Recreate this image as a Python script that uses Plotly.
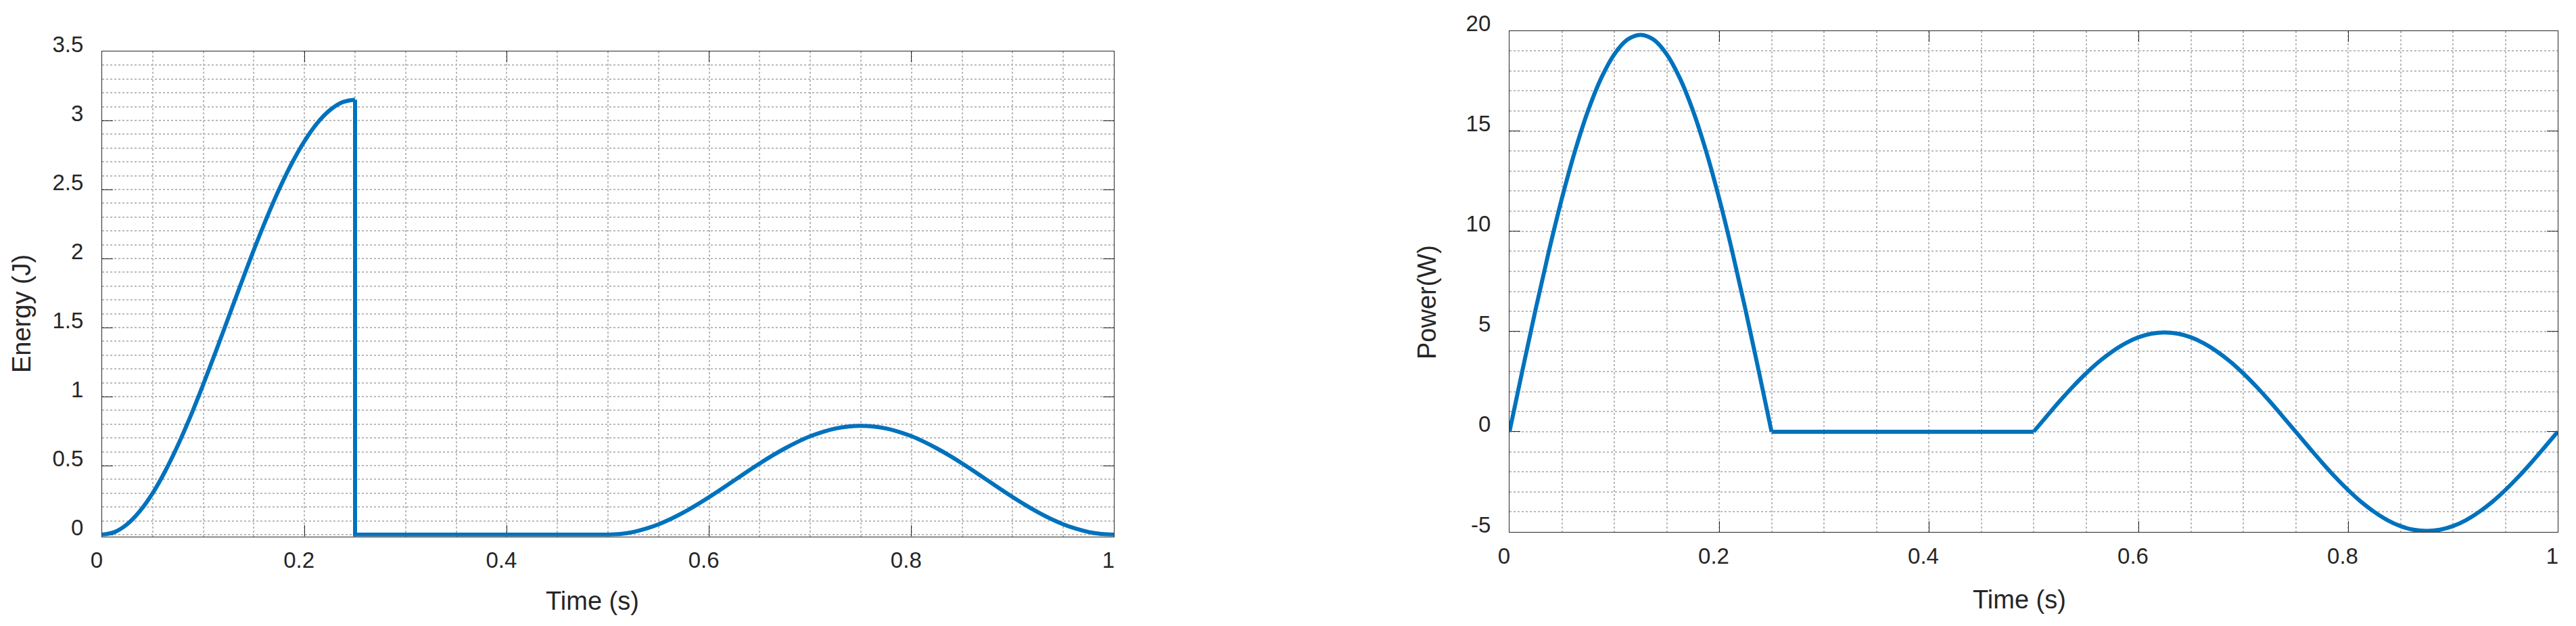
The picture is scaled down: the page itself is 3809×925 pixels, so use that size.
import plotly.graph_objects as go

# ---------------- data ----------------
energy_time = [0.0, 0.0125, 0.025, 0.0375, 0.05, 0.0625, 0.075, 0.0875, 0.1, 0.1125,
               0.125, 0.1375, 0.15, 0.1625, 0.175, 0.1875, 0.2, 0.2125, 0.225, 0.2375,
               0.25, 0.25, 0.5,
               0.5125, 0.525, 0.5375, 0.55, 0.5625, 0.575, 0.5875, 0.6, 0.6125, 0.625,
               0.6375, 0.65, 0.6625, 0.675, 0.6875, 0.7, 0.7125, 0.725, 0.7375, 0.75,
               0.7625, 0.775, 0.7875, 0.8, 0.8125, 0.825, 0.8375, 0.85, 0.8625, 0.875,
               0.8875, 0.9, 0.9125, 0.925, 0.9375, 0.95, 0.9625, 0.975, 0.9875, 1.0]
energy_j = [0.0, 0.019, 0.077, 0.172, 0.301, 0.462, 0.650, 0.860, 1.089, 1.329,
            1.576, 1.822, 2.063, 2.291, 2.502, 2.690, 2.850, 2.980, 3.074, 3.132,
            3.151, 0.0, 0.0,
            0.005, 0.019, 0.043, 0.075, 0.115, 0.162, 0.215, 0.272, 0.332, 0.394,
            0.456, 0.516, 0.573, 0.625, 0.672, 0.713, 0.745, 0.769, 0.783, 0.788,
            0.783, 0.769, 0.745, 0.713, 0.672, 0.625, 0.573, 0.516, 0.456, 0.394,
            0.332, 0.272, 0.215, 0.162, 0.115, 0.075, 0.043, 0.019, 0.005, 0.0]

power_time = [0.0, 0.0125, 0.025, 0.0375, 0.05, 0.0625, 0.075, 0.0875, 0.1, 0.1125,
              0.125, 0.1375, 0.15, 0.1625, 0.175, 0.1875, 0.2, 0.2125, 0.225, 0.2375,
              0.25, 0.5,
              0.5125, 0.525, 0.5375, 0.55, 0.5625, 0.575, 0.5875, 0.6, 0.6125, 0.625,
              0.6375, 0.65, 0.6625, 0.675, 0.6875, 0.7, 0.7125, 0.725, 0.7375, 0.75,
              0.7625, 0.775, 0.7875, 0.8, 0.8125, 0.825, 0.8375, 0.85, 0.8625, 0.875,
              0.8875, 0.9, 0.9125, 0.925, 0.9375, 0.95, 0.9625, 0.975, 0.9875, 1.0]
power_w = [0.0, 3.10, 6.12, 8.99, 11.64, 14.00, 16.02, 17.64, 18.83, 19.56,
           19.80, 19.56, 18.83, 17.64, 16.02, 14.00, 11.64, 8.99, 6.12, 3.10,
           0.0, 0.0,
           0.77, 1.53, 2.25, 2.91, 3.50, 4.00, 4.41, 4.71, 4.89, 4.95,
           4.89, 4.71, 4.41, 4.00, 3.50, 2.91, 2.25, 1.53, 0.77, 0.0,
           -0.77, -1.53, -2.25, -2.91, -3.50, -4.00, -4.41, -4.71, -4.89, -4.95,
           -4.89, -4.71, -4.41, -4.00, -3.50, -2.91, -2.25, -1.53, -0.77, 0.0]

time_ticks = [0, 0.2, 0.4, 0.6, 0.8, 1]
time_tick_labels = ["0", "0.2", "0.4", "0.6", "0.8", "1"]
energy_ticks = [0, 0.5, 1, 1.5, 2, 2.5, 3, 3.5]
energy_tick_labels = ["0", "0.5", "1", "1.5", "2", "2.5", "3", "3.5"]
power_ticks = [-5, 0, 5, 10, 15, 20]
power_tick_labels = ["-5", "0", "5", "10", "15", "20"]

# ---------------- styling ----------------
W, H = 3809, 925
FONT = "Liberation Sans, Arial, sans-serif"
TXT = "#262626"
LINE = "#0072BD"
GRID = "#bababa"
DASH = "3px,3px"
TICKFONT = dict(family=FONT, size=33, color=TXT)
LABELFONT = dict(family=FONT, size=38, color=TXT)

def px_x(p):
    return p / W

def px_y(p):
    return 1 - p / H

fig = go.Figure()

def add_pieces(t, v, pieces, xa, ya):
    # smooth pieces use a spline, straight jumps/plateaus are linear
    for (a, b, shape) in pieces:
        fig.add_trace(go.Scatter(x=t[a:b], y=v[a:b], mode="lines",
                                 line=dict(color=LINE, width=6, shape=shape),
                                 xaxis=xa, yaxis=ya, showlegend=False,
                                 hoverinfo="skip"))

add_pieces(energy_time, energy_j,
           [(0, 21, "spline"), (20, 23, "linear"), (22, len(energy_time), "spline")],
           "x", "y")
add_pieces(power_time, power_w,
           [(0, 21, "spline"), (20, 22, "linear"), (21, len(power_time), "spline")],
           "x2", "y2")

def xaxis(domain, anchor):
    return dict(domain=domain, anchor=anchor, range=[0, 1], automargin=False,
                tickmode="array", tickvals=time_ticks, ticktext=time_tick_labels,
                ticks="inside", ticklen=16, tickwidth=1, tickcolor=TXT,
                showline=True, linecolor=TXT, linewidth=1.3, mirror="ticks",
                showgrid=True, gridcolor=GRID, griddash=DASH, gridwidth=1.7,
                minor=dict(dtick=0.05, tick0=0, showgrid=True, gridcolor=GRID,
                           griddash=DASH, gridwidth=1.7, ticks=""),
                zeroline=False, tickfont=TICKFONT, ticklabelstandoff=6,
                ticklabelshift=-8, fixedrange=True, layer="below traces")

def yaxis(domain, anchor, rng, tv, tt, minor):
    return dict(domain=domain, anchor=anchor, range=rng, automargin=False,
                tickmode="array", tickvals=tv, ticktext=tt,
                ticks="inside", ticklen=16, tickwidth=1, tickcolor=TXT,
                showline=True, linecolor=TXT, linewidth=1.3, mirror="ticks",
                showgrid=True, gridcolor=GRID, griddash=DASH, gridwidth=1.7,
                minor=dict(dtick=minor, tick0=0, showgrid=True, gridcolor=GRID,
                           griddash=DASH, gridwidth=1.7, ticks=""),
                zeroline=False, tickfont=TICKFONT, ticklabelstandoff=20,
                ticklabelshift=-11, fixedrange=True, layer="below traces")

# left plot: value 0 sits at 790 px, 3.5 at 76 px; the frame is extended 2.5 px
# below zero so that the thick zero-level line is not half clipped
L_pad_px = 2.5
L_unit_px = (790 - 76) / 3.5
L_x = [px_x(151), px_x(1647)]
L_y = [px_y(790 + L_pad_px), px_y(76)]
L_range = [-L_pad_px / L_unit_px, 3.5]
R_x = [px_x(2232), px_x(3782)]
R_y = [px_y(786), px_y(45.5)]

fig.update_layout(
    width=W, height=H, autosize=False,
    margin=dict(l=0, r=0, t=0, b=0, pad=0, autoexpand=False),
    paper_bgcolor="white", plot_bgcolor="white",
    font=dict(family=FONT, color=TXT),
    xaxis=xaxis(L_x, "y"),
    yaxis=yaxis(L_y, "x", L_range, energy_ticks, energy_tick_labels, 0.1),
    xaxis2=xaxis(R_x, "y2"),
    yaxis2=yaxis(R_y, "x2", [-5, 20], power_ticks, power_tick_labels, 1),
    annotations=[
        dict(text="Energy (J)", xref="paper", yref="paper", x=px_x(32), y=px_y(464),
             xanchor="center", yanchor="middle", textangle=-90, showarrow=False,
             font=LABELFONT),
        dict(text="Power(W)", xref="paper", yref="paper", x=px_x(2110), y=px_y(447),
             xanchor="center", yanchor="middle", textangle=-90, showarrow=False,
             font=LABELFONT),
        dict(text="Time (s)", xref="paper", yref="paper", x=px_x(876), y=px_y(888),
             xanchor="center", yanchor="middle", showarrow=False, font=LABELFONT),
        dict(text="Time (s)", xref="paper", yref="paper", x=px_x(2986), y=px_y(886),
             xanchor="center", yanchor="middle", showarrow=False, font=LABELFONT),
    ],
)

fig.write_html("out.html", config={"displayModeBar": False},
               post_script="document.body.style.margin='0';document.body.style.overflow='hidden';")
